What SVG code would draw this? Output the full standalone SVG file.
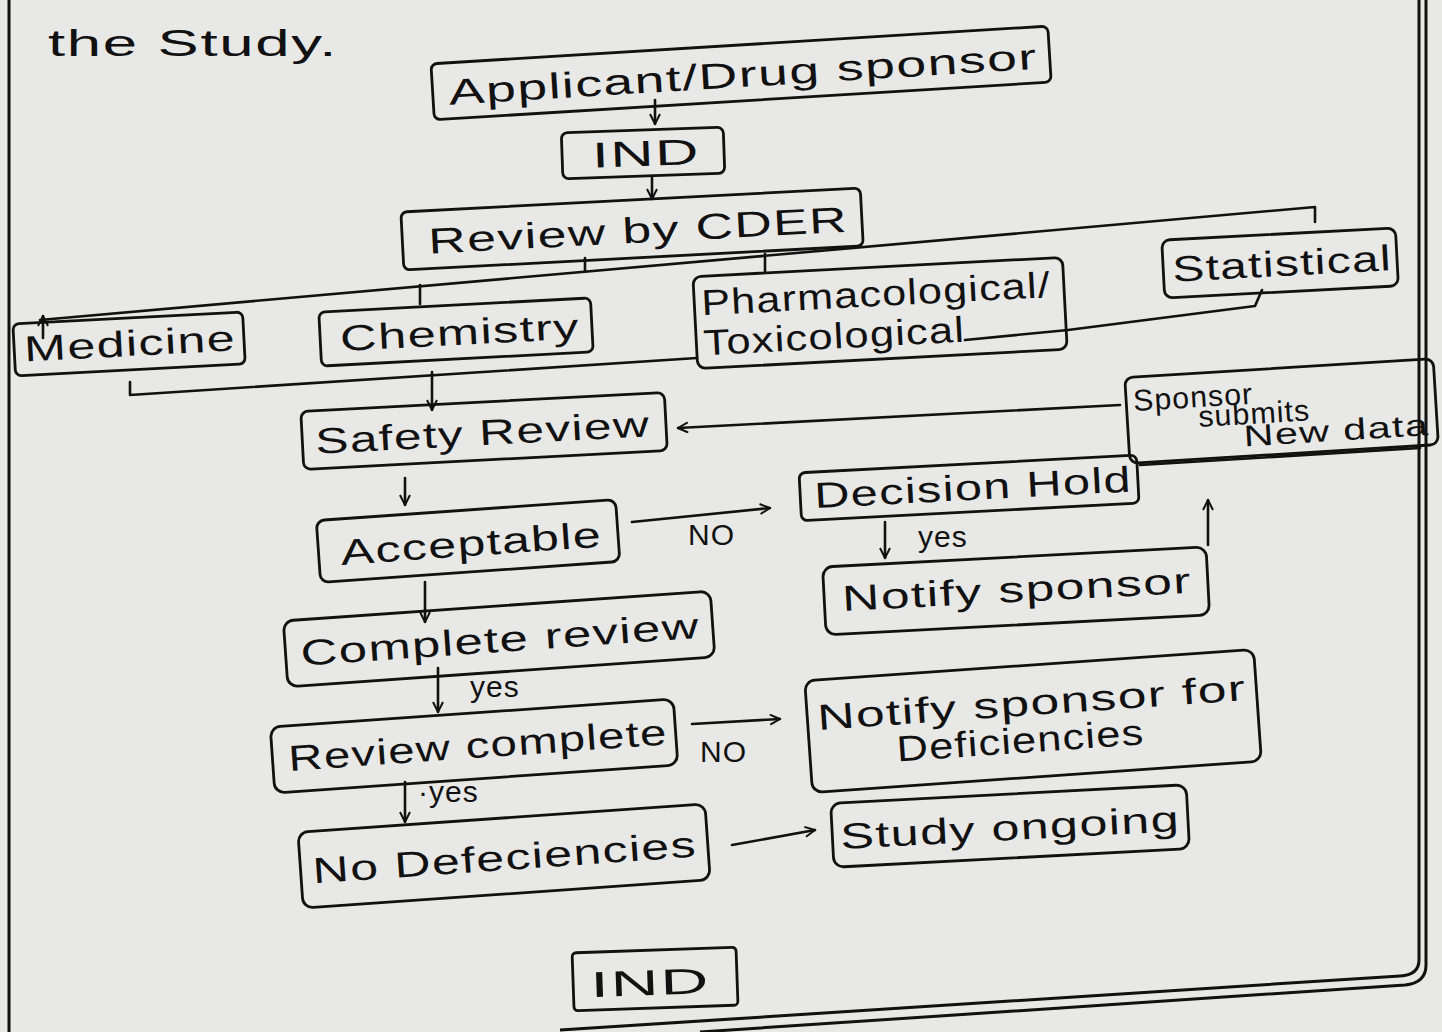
<svg xmlns="http://www.w3.org/2000/svg" width="1442" height="1032" viewBox="0 0 1442 1032">
<style>
.bg{fill:#e8e8e6}
.box{fill:none;stroke:#111;stroke-width:2.8}
.t{font-family:"Liberation Sans","DejaVu Sans",sans-serif;font-size:36px;fill:#111;letter-spacing:1px}
.s{font-size:30px}
.ln{fill:none;stroke:#111;stroke-width:2.6;stroke-linecap:round;stroke-linejoin:round}
.ar{fill:none;stroke:#111;stroke-width:2.6;stroke-linecap:round;marker-end:url(#ah)}
.frame{fill:none;stroke:#111;stroke-width:3}
</style>
<defs>
<marker id="ah" viewBox="0 0 12 12" refX="11" refY="6" markerWidth="12" markerHeight="12" markerUnits="userSpaceOnUse" orient="auto">
<path d="M1,1 L11,6 L1,11" fill="none" stroke="#111" stroke-width="2"/>
</marker>
</defs>
<rect class="bg" x="0" y="0" width="1442" height="1032"/>
<g id="page-frame">
<path class="frame" d="M9,0 V1032"/>
<path class="frame" d="M1419,0 V960 Q1419,975 1400,976 L560,1030"/>
<path class="frame" d="M1426,0 V965 Q1426,983 1405,985 L700,1032"/>
</g>
<text class="t" x="48" y="56" font-size="44" textLength="290" lengthAdjust="spacingAndGlyphs">the  Study.</text>

<g id="connectors">
<path class="ar" d="M655,100 V124"/>
<path class="ar" d="M652,176 V199"/>
<path class="ln" d="M40,320 L1315,207 V222"/>
<path class="ar" d="M43,338 V316"/>
<path class="ln" d="M420,285 V304"/>
<path class="ln" d="M585,258 V271"/>
<path class="ln" d="M765,254 V272"/>
<path class="ln" d="M130,382 V395 L697,358"/>
<path class="ln" d="M965,340 L1068,330 L1255,306 L1262,290"/>
<path class="ar" d="M432,372 V410"/>
<path class="ar" d="M1120,405 L678,428"/>
<path class="ar" d="M405,478 V505"/>
<path class="ar" d="M632,522 L770,508"/>
<path class="ln" d="M1140,465 L1420,448"/>
<path class="ar" d="M885,522 V558"/>
<path class="ar" d="M1208,545 V500"/>
<path class="ar" d="M425,582 V622"/>
<path class="ar" d="M438,668 V712"/>
<path class="ar" d="M692,724 L780,719"/>
<path class="ar" d="M405,782 V822"/>
<path class="ar" d="M732,845 L815,830"/>
<text class="t s" x="688" y="545">NO</text>
<text class="t s" x="918" y="547">yes</text>
<text class="t s" x="470" y="697">yes</text>
<text class="t s" x="700" y="762">NO</text>
<text class="t s" x="418" y="802">·yes</text>
</g>

<g id="applicant" transform="rotate(-3.5 740 72)">
<rect class="box" x="432" y="45" width="618" height="56" rx="6"/>
<text class="t" x="448" y="87" textLength="590" lengthAdjust="spacingAndGlyphs">Applicant/Drug sponsor</text>
</g>
<g id="ind-top" transform="rotate(-2 642 152)">
<rect class="box" x="562" y="130" width="162" height="46" rx="6"/>
<text class="t" x="592" y="166" textLength="108" lengthAdjust="spacingAndGlyphs">IND</text>
</g>
<g id="cder" transform="rotate(-3 632 228)">
<rect class="box" x="402" y="200" width="460" height="58" rx="6"/>
<text class="t" x="428" y="243" textLength="420" lengthAdjust="spacingAndGlyphs">Review by CDER</text>
</g>
<g id="medicine" transform="rotate(-3 128 343)">
<rect class="box" x="14" y="318" width="230" height="52" rx="6"/>
<text class="t" x="24" y="356" textLength="212" lengthAdjust="spacingAndGlyphs">Medicine</text>
</g>
<g id="chemistry" transform="rotate(-3 456 332)">
<rect class="box" x="320" y="305" width="272" height="54" rx="6"/>
<text class="t" x="340" y="345" textLength="240" lengthAdjust="spacingAndGlyphs">Chemistry</text>
</g>
<g id="pharmacology" transform="rotate(-3 880 312)">
<rect class="box" x="695" y="267" width="370" height="92" rx="8"/>
<text class="t" x="702" y="306" textLength="350" lengthAdjust="spacingAndGlyphs">Pharmacological/</text>
<text class="t" x="702" y="346" textLength="262" lengthAdjust="spacingAndGlyphs">Toxicological</text>
</g>
<g id="statistical" transform="rotate(-3 1280 262)">
<rect class="box" x="1163" y="234" width="234" height="58" rx="8"/>
<text class="t" x="1172" y="276" textLength="220" lengthAdjust="spacingAndGlyphs">Statistical</text>
</g>
<g id="sponsor-submits" transform="rotate(-3.5 1282 410)">
<rect class="box" x="1127" y="368" width="309" height="86" rx="8"/>
<text class="t s" x="1134" y="402" textLength="120" lengthAdjust="spacingAndGlyphs">Sponsor</text>
<text class="t s" x="1198" y="422" textLength="112" lengthAdjust="spacingAndGlyphs">submits</text>
<text class="t s" x="1242" y="444" textLength="186" lengthAdjust="spacingAndGlyphs">New data</text>
</g>
<g id="safety" transform="rotate(-3 484 430)">
<rect class="box" x="302" y="402" width="364" height="58" rx="7"/>
<text class="t" x="315" y="445" textLength="335" lengthAdjust="spacingAndGlyphs">Safety Review</text>
</g>
<g id="acceptable" transform="rotate(-4 468 540)">
<rect class="box" x="318" y="510" width="300" height="62" rx="8"/>
<text class="t" x="340" y="556" textLength="262" lengthAdjust="spacingAndGlyphs">Acceptable</text>
</g>
<g id="decision-hold" transform="rotate(-3 968 487)">
<rect class="box" x="800" y="464" width="338" height="48" rx="6"/>
<text class="t" x="814" y="500" textLength="318" lengthAdjust="spacingAndGlyphs">Decision Hold</text>
</g>
<g id="notify-sponsor" transform="rotate(-3 1015 590)">
<rect class="box" x="824" y="557" width="384" height="68" rx="10"/>
<text class="t" x="842" y="602" textLength="350" lengthAdjust="spacingAndGlyphs">Notify sponsor</text>
</g>
<g id="complete-review" transform="rotate(-4 498 638)">
<rect class="box" x="285" y="606" width="428" height="66" rx="10"/>
<text class="t" x="300" y="652" textLength="400" lengthAdjust="spacingAndGlyphs">Complete review</text>
</g>
<g id="review-complete" transform="rotate(-4 474 745)">
<rect class="box" x="272" y="713" width="404" height="66" rx="10"/>
<text class="t" x="288" y="758" textLength="380" lengthAdjust="spacingAndGlyphs">Review complete</text>
</g>
<g id="notify-deficiencies" transform="rotate(-4 1033 720)">
<rect class="box" x="808" y="665" width="450" height="112" rx="10"/>
<text class="t" x="818" y="715" textLength="430" lengthAdjust="spacingAndGlyphs">Notify sponsor for</text>
<text class="t" x="895" y="752" textLength="248" lengthAdjust="spacingAndGlyphs">Deficiencies</text>
</g>
<g id="no-deficiencies" transform="rotate(-4 504 855)">
<rect class="box" x="300" y="818" width="408" height="76" rx="10"/>
<text class="t" x="312" y="870" textLength="385" lengthAdjust="spacingAndGlyphs">No Defeciencies</text>
</g>
<g id="study-ongoing" transform="rotate(-3 1010 825)">
<rect class="box" x="832" y="794" width="356" height="64" rx="10"/>
<text class="t" x="840" y="840" textLength="340" lengthAdjust="spacingAndGlyphs">Study ongoing</text>
</g>
<g id="ind-bottom" transform="rotate(-2 655 978)">
<rect class="box" x="573" y="950" width="164" height="58" rx="4"/>
<text class="t" x="590" y="995" textLength="120" lengthAdjust="spacingAndGlyphs">IND</text>
</g>
</svg>
